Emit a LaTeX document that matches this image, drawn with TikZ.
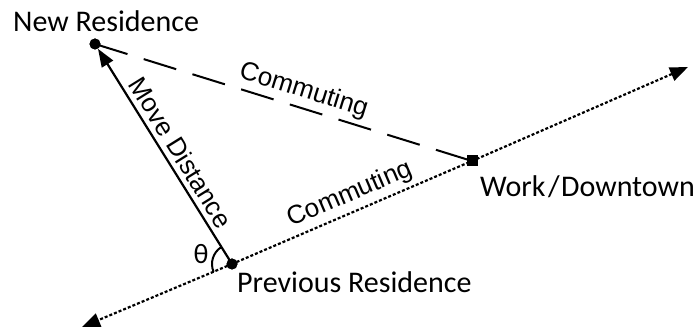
\documentclass[tikz,border=0pt]{standalone}
\usepackage{fontspec}
\setmainfont{Carlito}
\newfontfamily\arialf{Liberation Sans}
\usetikzlibrary{arrows.meta}
\begin{document}
\begin{tikzpicture}[x=1pt,y=1pt,
  dot/.style={circle,fill=black,inner sep=0pt,minimum size=11pt},
  sq/.style={rectangle,fill=black,inner sep=0pt,minimum size=11pt},
  lbl/.style={font=\fontsize{30}{34}\selectfont,inner sep=0pt},
  lnlbl/.style={font=\arialf\fontsize{26}{30}\selectfont,inner sep=4pt,sloped,anchor=south},
  dotline/.style={line width=2.2pt,dash pattern=on 3pt off 2pt,-{Triangle[length=18pt,width=14pt]}},
  dashline/.style={line width=2pt,dash pattern=on 34pt off 17pt},
  movearrow/.style={line width=2.2pt,-{Triangle[length=18pt,width=13pt]}}
]
\useasboundingbox (0,0) rectangle (696,328);
\node[dot] (NR) at (95,284) {};
\node[dot] (PR) at (232,64) {};
\node[sq] (WD) at (472,167) {};
\coordinate (TR) at (688,261);
\coordinate (TL) at (82,1);
\node[lbl,anchor=base west] (tNR) at (13,296) {New Residence};
\node[lbl,anchor=base west] (tPR) at (237,35) {Previous Residence};
\node[lbl,anchor=base west] (tWD) at (480,131) {Work\kern2.5pt/\kern1.5pt Downtown};
\draw[dotline] (WD.center) -- (TR);
\draw[dotline] (PR.center) -- (TL);
\draw[line width=2.2pt,dash pattern=on 3pt off 2pt] (PR.center) -- node[lnlbl,pos=0.52] {Commuting} (WD.center);
\draw[dashline] (NR.center) -- node[lnlbl,pos=0.54] {Commuting} (WD.center);
\draw[movearrow] (PR.center) -- node[lnlbl,pos=0.48,inner sep=5pt] {Move Distance} (NR);
\draw[line width=2pt] ([shift={(121.9:20)}]PR.center) arc[start angle=121.9,end angle=203.2,radius=20];
\node[lbl,font=\fontsize{28}{32}\selectfont] (th) at (201,74) {θ};
\node[dot] at (PR) {};
\node[dot] at (NR) {};
\node[sq] at (WD) {};
\end{tikzpicture}
\end{document}
